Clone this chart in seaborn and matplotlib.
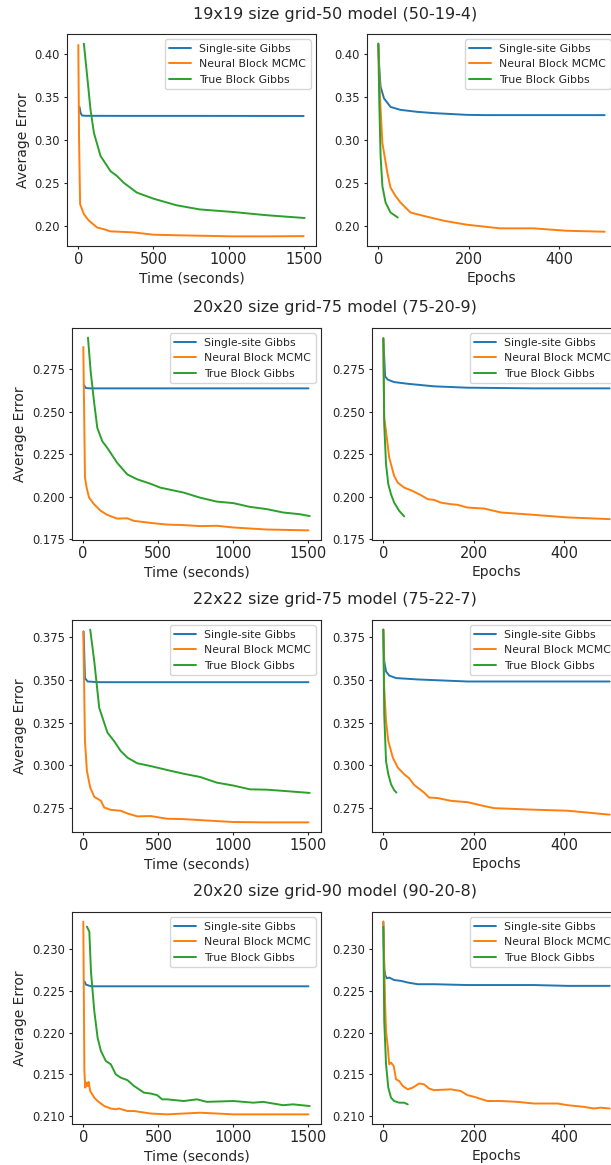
import matplotlib
matplotlib.use("Agg")
import matplotlib.pyplot as plt
from matplotlib.ticker import MaxNLocator
import seaborn as sns

# ---- data (approximate) ----
titles = ["19x19 size grid-50 model (50-19-4)",
          "20x20 size grid-75 model (75-20-9)",
          "22x22 size grid-75 model (75-22-7)",
          "20x20 size grid-90 model (90-20-8)"]
methods = ["Single-site Gibbs", "Neural Block MCMC", "True Block Gibbs"]

# row 1: 19x19, time axis
g19_t_single = [8, 15, 25, 50, 300, 800, 1500]
g19_e_single = [0.338, 0.331, 0.328, 0.3277, 0.3276, 0.3276, 0.3275]
g19_t_nbm = [0, 5, 12, 37, 70, 125, 170, 214, 260, 368, 500, 700, 1030, 1250, 1500]
g19_e_nbm = [0.410, 0.300, 0.225, 0.2135, 0.206, 0.198, 0.196, 0.1935, 0.1932, 0.1923,
             0.1896, 0.1888, 0.1877, 0.1877, 0.188]
g19_t_tbg = [37, 64, 81, 104, 148, 214, 258, 302, 390, 500, 654, 808, 1030, 1250, 1507]
g19_e_tbg = [0.4115, 0.365, 0.335, 0.3077, 0.281, 0.2635, 0.2577, 0.25, 0.2385, 0.2315,
             0.2238, 0.219, 0.216, 0.2123, 0.209]
# row 1: epochs axis
g19_ep_single = [0, 2, 5, 12.5, 27, 49, 86, 123, 196, 233, 343, 500]
g19_ee_single = [0.4115, 0.3846, 0.3615, 0.348, 0.338, 0.3346, 0.3323, 0.3308, 0.3288,
                 0.3285, 0.3285, 0.3285]
g19_ep_nbm = [0, 4, 9, 20, 27, 38, 49, 71, 100, 145, 196, 269, 343, 416, 500]
g19_ee_nbm = [0.4104, 0.346, 0.296, 0.2615, 0.2442, 0.2346, 0.227, 0.2154, 0.2115, 0.2058,
              0.2012, 0.197, 0.197, 0.1942, 0.1931]
g19_ep_tbg = [0, 2, 5, 9, 16, 27, 43]
g19_ee_tbg = [0.4115, 0.346, 0.281, 0.246, 0.227, 0.2154, 0.2096]

# row 2: 20x20 grid-75, time axis
g20a_t_single = [5, 18, 50, 500, 1000, 1500]
g20a_e_single = [0.2658, 0.2639, 0.2637, 0.2637, 0.2637, 0.2637]
g20a_t_nbm = [2, 13, 24, 40, 73, 117, 161, 227, 294, 338, 448, 558, 669, 779, 890, 1000,
              1221, 1500]
g20a_e_nbm = [0.288, 0.2113, 0.2054, 0.1996, 0.1957, 0.1918, 0.1894, 0.1872, 0.1874, 0.1859,
              0.1847, 0.1837, 0.1834, 0.1828, 0.183, 0.182, 0.1808, 0.1803]
g20a_t_tbg = [33, 51, 73, 95, 128, 161, 227, 294, 360, 448, 514, 669, 779, 890, 1000, 1110,
              1221, 1331, 1441, 1508]
g20a_e_tbg = [0.2935, 0.2736, 0.2561, 0.2405, 0.2327, 0.2288, 0.22, 0.2132, 0.2103, 0.2077,
              0.2054, 0.2025, 0.1995, 0.1972, 0.1963, 0.1941, 0.1928, 0.1908, 0.1898, 0.1887]
# row 2: epochs axis
g20a_ep_single = [0, 4, 10, 24, 54, 112, 186, 333, 500]
g20a_ee_single = [0.2931, 0.2707, 0.2688, 0.2674, 0.2664, 0.2649, 0.2641, 0.2637, 0.2637]
g20a_ep_nbm = [0, 2, 6, 13, 24, 32, 46, 61, 83, 98, 112, 127, 149, 164, 186, 223, 260, 333,
               407, 500]
g20a_ee_nbm = [0.2931, 0.2463, 0.2385, 0.223, 0.2122, 0.2083, 0.2054, 0.2039, 0.201, 0.1986,
               0.1982, 0.1966, 0.1957, 0.1953, 0.1937, 0.1931, 0.1908, 0.1894, 0.1879, 0.1869]
g20a_ep_tbg = [0, 2, 6, 11, 17, 24, 35, 46]
g20a_ee_tbg = [0.2931, 0.2424, 0.2191, 0.2074, 0.2015, 0.1966, 0.1918, 0.1885]

# row 3: 22x22, time axis
g22_t_single = [2, 11, 29, 100, 500, 1000, 1500]
g22_e_single = [0.3783, 0.351, 0.349, 0.3486, 0.3486, 0.3486, 0.3486]
g22_t_nbm = [0, 11, 24, 46, 73, 117, 139, 183, 249, 294, 360, 448, 558, 669, 779, 1000,
             1221, 1500]
g22_e_nbm = [0.378, 0.3142, 0.2967, 0.287, 0.2816, 0.2793, 0.2754, 0.274, 0.2735, 0.2719,
             0.2702, 0.2704, 0.2688, 0.2686, 0.268, 0.2669, 0.2667, 0.2667]
g22_t_tbg = [46, 73, 106, 161, 205, 249, 294, 360, 448, 558, 669, 779, 890, 1000, 1110,
             1221, 1331, 1508]
g22_e_tbg = [0.3793, 0.3608, 0.3336, 0.3191, 0.3142, 0.3084, 0.3045, 0.3012, 0.2996, 0.2973,
             0.2951, 0.2932, 0.2899, 0.2882, 0.286, 0.2858, 0.2851, 0.2839]
# row 3: epochs axis
g22_ep_single = [0, 2, 6, 13, 28, 76, 112, 186, 333, 500]
g22_ee_single = [0.3793, 0.3608, 0.3549, 0.3525, 0.351, 0.3502, 0.3498, 0.349, 0.349, 0.349]
g22_ep_nbm = [0, 2, 6, 11, 21, 32, 46, 57, 68, 90, 101, 120, 149, 186, 223, 245, 333, 407, 500]
g22_ee_nbm = [0.3793, 0.3453, 0.3259, 0.3142, 0.3045, 0.2987, 0.2948, 0.2925, 0.2886, 0.2841,
              0.2812, 0.2809, 0.2793, 0.2785, 0.2762, 0.275, 0.2741, 0.2735, 0.2712]
g22_ep_tbg = [0, 2, 6, 11, 17, 24, 29]
g22_ee_tbg = [0.3793, 0.3298, 0.3025, 0.2948, 0.289, 0.2855, 0.2841]

# row 4: 20x20 grid-90, time axis
g20b_t_single = [7, 18, 51, 500, 1000, 1500]
g20b_e_single = [0.22614, 0.22575, 0.22555, 0.22555, 0.22555, 0.22555]
g20b_t_nbm = [0, 7, 13, 20, 29, 35, 46, 73, 95, 139, 183, 216, 238, 294, 338, 448, 558, 779,
              1000, 1221, 1500]
g20b_e_nbm = [0.2333, 0.2154, 0.2134, 0.214, 0.2136, 0.2141, 0.213, 0.2122, 0.2118, 0.2112,
              0.2109, 0.2108, 0.2109, 0.2106, 0.2106, 0.2103, 0.2102, 0.2104, 0.2102, 0.2102,
              0.2102]
g20b_t_tbg = [24, 40, 51, 73, 95, 117, 150, 183, 216, 249, 294, 338, 404, 448, 492, 525, 558,
              669, 757, 823, 1000, 1132, 1198, 1331, 1397, 1508]
g20b_e_tbg = [0.2327, 0.2321, 0.2273, 0.2226, 0.2194, 0.2178, 0.2166, 0.2162, 0.215, 0.2146,
              0.2143, 0.2136, 0.2128, 0.2127, 0.2125, 0.212, 0.212, 0.2118, 0.212, 0.2117,
              0.2118, 0.2116, 0.2117, 0.2113, 0.2114, 0.2112]
# row 4: epochs axis
g20b_ep_single = [0, 2, 4, 8, 13, 24, 39, 54, 76, 112, 186, 260, 333, 407, 500]
g20b_ee_single = [0.2333, 0.2277, 0.2269, 0.2265, 0.2266, 0.2263, 0.2262, 0.226, 0.2258,
                  0.2258, 0.2257, 0.2257, 0.2257, 0.2256, 0.2256]
g20b_ep_nbm = [0, 4, 6, 10, 13, 17, 23, 28, 35, 43, 54, 65, 79, 90, 101, 112, 149, 171, 186,
               201, 230, 260, 296, 333, 385, 407, 443, 465, 480, 500]
g20b_ee_nbm = [0.2333, 0.2234, 0.2202, 0.2182, 0.2162, 0.2164, 0.216, 0.2144, 0.2142, 0.2136,
               0.2132, 0.2134, 0.2139, 0.2138, 0.2133, 0.2131, 0.2132, 0.213, 0.2125, 0.2123,
               0.2118, 0.2118, 0.2117, 0.2115, 0.2115, 0.2113, 0.2111, 0.2109, 0.211, 0.2109]
g20b_ep_tbg = [0, 2, 6, 11, 17, 24, 35, 46, 54]
g20b_ee_tbg = [0.2327, 0.2214, 0.2162, 0.2134, 0.2122, 0.2118, 0.2116, 0.2116, 0.2114]

rows = [
    ((g19_t_single, g19_e_single), (g19_t_nbm, g19_e_nbm), (g19_t_tbg, g19_e_tbg),
     (g19_ep_single, g19_ee_single), (g19_ep_nbm, g19_ee_nbm), (g19_ep_tbg, g19_ee_tbg)),
    ((g20a_t_single, g20a_e_single), (g20a_t_nbm, g20a_e_nbm), (g20a_t_tbg, g20a_e_tbg),
     (g20a_ep_single, g20a_ee_single), (g20a_ep_nbm, g20a_ee_nbm), (g20a_ep_tbg, g20a_ee_tbg)),
    ((g22_t_single, g22_e_single), (g22_t_nbm, g22_e_nbm), (g22_t_tbg, g22_e_tbg),
     (g22_ep_single, g22_ee_single), (g22_ep_nbm, g22_ee_nbm), (g22_ep_tbg, g22_ee_tbg)),
    ((g20b_t_single, g20b_e_single), (g20b_t_nbm, g20b_e_nbm), (g20b_t_tbg, g20b_e_tbg),
     (g20b_ep_single, g20b_ee_single), (g20b_ep_nbm, g20b_ee_nbm), (g20b_ep_tbg, g20b_ee_tbg)),
]

# ---- styling ----
sns.set_style("ticks")
plt.rcParams["font.family"] = ["DejaVu Sans"]
plt.rcParams["xtick.labelsize"] = 10.5
plt.rcParams["ytick.labelsize"] = 8.3
plt.rcParams["axes.labelsize"] = 10
plt.rcParams["legend.fontsize"] = 7.8
plt.rcParams["xtick.major.size"] = 2.5
plt.rcParams["ytick.major.size"] = 2.5
plt.rcParams["xtick.major.pad"] = 1.5
plt.rcParams["ytick.major.pad"] = 2.5
plt.rcParams["axes.labelpad"] = 3.5
palette = sns.color_palette("tab10", 3)
nice_steps = [1, 2, 2.5, 5, 10]

W, H = 611, 1165
fig = plt.figure(figsize=(W / 100, H / 100), dpi=100)

# pixel layout: (left-axes x, right-axes x, top y, title baseline y) per row
layout = [(67, 367, 34, 19), (72, 372, 328, 312), (72, 372, 620, 604), (72, 372, 912, 896)]
ax_w, ax_h = 249, 212


def px_axes(x, y):
    return fig.add_axes([x / W, 1 - (y + ax_h) / H, ax_w / W, ax_h / H])


for (xl, xr, yt, ty), title, series in zip(layout, titles, rows):
    ax1 = px_axes(xl, yt)
    ax2 = px_axes(xr, yt)
    ax2.sharey(ax1)
    for i, name in enumerate(methods):
        tx, te = series[i]
        sns.lineplot(x=tx, y=te, ax=ax1, color=palette[i], label=name, linewidth=1.4)
        ex, ee = series[3 + i]
        sns.lineplot(x=ex, y=ee, ax=ax2, color=palette[i], label=name, linewidth=1.4)
    ax1.set_xlabel("Time (seconds)")
    ax1.set_ylabel("Average Error")
    ax2.set_xlabel("Epochs")
    ax2.set_ylabel("")
    ax2.tick_params(labelleft=True)
    for ax in (ax1, ax2):
        ax.xaxis.set_major_locator(MaxNLocator(nbins=4, steps=nice_steps))
        ax.yaxis.set_major_locator(MaxNLocator(nbins=6, steps=nice_steps))
        ax.legend(loc="upper right")
    fig.text(335 / W, 1 - ty / H, title, ha="center", va="baseline", fontsize=11.5)

fig.savefig("out.png", dpi=100)
